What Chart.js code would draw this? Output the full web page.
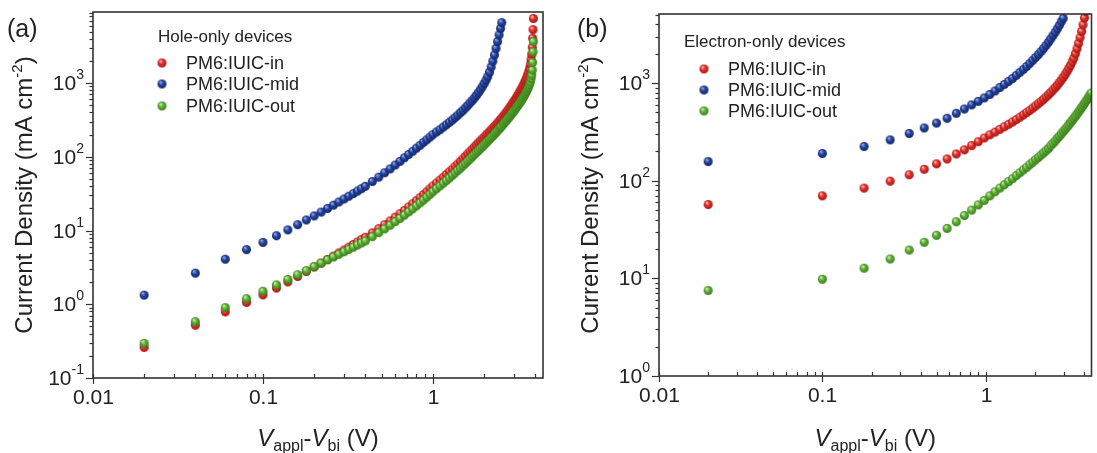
<!DOCTYPE html>
<html>
<head>
<meta charset="utf-8">
<script src="https://cdn.jsdelivr.net/npm/chart.js@4.4.1/dist/chart.umd.min.js"></script>
<style>
  html, body { margin: 0; padding: 0; background: #fff; }
  #wrap { position: relative; width: 1097px; height: 453px; overflow: hidden; }
  canvas { position: absolute; left: 0; top: 0; }
</style>
</head>
<body>
<div id="wrap">
  <canvas id="holeChart" width="1097" height="453"></canvas>
  <canvas id="electronChart" width="1097" height="453"></canvas>
</div>
<script>
// ---- data ----
const seriesNames = ["PM6:IUIC-in", "PM6:IUIC-mid", "PM6:IUIC-out"];
const xTickLabels = ["0.01", "0.1", "1"];

// (a) hole-only, V_appl - V_bi (V)
const xHole = [
  0.02, 0.04, 0.06, 0.08, 0.10, 0.12, 0.14, 0.16, 0.18, 0.20,
  0.22, 0.24, 0.26, 0.28, 0.30, 0.32, 0.34, 0.36, 0.38, 0.40,
  0.44, 0.48, 0.52, 0.56, 0.60, 0.64, 0.68, 0.72, 0.76, 0.80,
  0.84, 0.88, 0.92, 0.96, 1.00,
  1.05, 1.10, 1.15, 1.20, 1.25, 1.30, 1.35, 1.40, 1.45, 1.50,
  1.55, 1.60, 1.65, 1.70, 1.75, 1.80, 1.85, 1.90, 1.95, 2.00,
  2.05, 2.10, 2.15, 2.20, 2.25, 2.30, 2.35, 2.40, 2.45, 2.50, 2.54,
  2.60, 2.65, 2.70, 2.75, 2.80, 2.85, 2.90, 2.95, 3.00,
  3.05, 3.10, 3.15, 3.20, 3.25, 3.30, 3.35, 3.40, 3.45, 3.50,
  3.55, 3.60, 3.65, 3.70,
  3.74, 3.78, 3.81, 3.84, 3.86, 3.88, 3.90
];
const holeIn = [
  0.26, 0.52, 0.79, 1.06, 1.34, 1.66, 2.01, 2.38, 2.78, 3.20,
  3.62, 4.05, 4.50, 4.97, 5.45, 5.95, 6.47, 7.0, 7.55, 8.1,
  9.3, 10.6, 12.0, 13.5, 15.2, 16.9, 18.8, 20.9, 23.1, 25.4,
  27.9, 30.7, 33.6, 36.8, 40.2,
  44.1, 48.3, 52.7, 57.5, 62.6, 67.9, 73.7, 79.9, 86.5, 93.5,
  101, 109, 117, 126, 135, 144, 154, 164, 174, 184,
  195, 206, 218, 231, 244, 258, 272, 287, 303, 320, 334,
  356, 377, 400, 424, 449, 476, 504, 534, 566,
  600, 637, 677, 720, 767, 818, 875, 938, 1008, 1086,
  1175, 1280, 1410, 1570,
  1780, 2080, 2450, 3050, 4050, 5300, 7500
];
const holeMid = [
  1.33, 2.64, 4.08, 5.5, 6.9, 8.5, 10.2, 12.0, 13.9, 15.8,
  17.8, 19.9, 22.1, 24.4, 26.8, 29.2, 31.7, 34.3, 37.0, 39.8,
  46.2, 53.0, 60.7, 68.5, 77.4, 86.6, 96.9, 107.6, 118.8, 131,
  143, 157, 170, 185, 200,
  217, 233, 253, 272, 293, 315, 340, 366, 396, 423,
  459, 494, 537, 578, 626, 677, 740, 810, 891, 981,
  1090, 1220, 1400, 1650, 1980, 2400, 2950, 3650, 4500, 5500, 6600,
  null, null, null, null, null, null, null, null, null,
  null, null, null, null, null, null, null, null, null, null,
  null, null, null, null,
  null, null, null, null, null, null, null
];
const holeOut = [
  0.295, 0.58, 0.90, 1.19, 1.50, 1.83, 2.17, 2.51, 2.86, 3.24,
  3.62, 4.0, 4.38, 4.76, 5.15, 5.55, 5.95, 6.37, 6.80, 7.23,
  8.26, 9.36, 10.55, 11.8, 13.2, 14.6, 16.2, 17.9, 19.7, 21.6,
  23.7, 25.9, 28.3, 30.9, 33.7,
  36.9, 40.3, 43.9, 47.7, 51.6, 55.9, 60.3, 65.2, 70.1, 75.5,
  81, 87.1, 93, 100, 107, 114, 121, 129, 137, 145,
  154, 163, 172, 182, 192, 203, 214, 226, 238, 251, 262,
  279, 294, 310, 326, 343, 361, 380, 400, 421,
  443, 466, 491, 517, 545, 575, 607, 642, 680, 722,
  768, 820, 880, 950,
  1030, 1150, 1280, 1500, 1900, 2650, 3650
];

// (b) electron-only
const xElectron = [
  0.02, 0.10, 0.18, 0.26, 0.34, 0.42, 0.50, 0.58, 0.66, 0.74,
  0.82, 0.90, 0.98, 1.06, 1.14, 1.22, 1.30, 1.38, 1.46, 1.54,
  1.62, 1.70, 1.78, 1.86, 1.94, 2.02, 2.10, 2.18, 2.26, 2.34,
  2.42, 2.50, 2.58, 2.66, 2.74, 2.82, 2.90, 2.98, 3.06, 3.14,
  3.22, 3.30, 3.38, 3.46, 3.54, 3.62, 3.70, 3.78, 3.86, 3.94,
  4.02, 4.10, 4.18, 4.26, 4.34, 4.42
];
const electronIn = [
  57, 70, 84, 99, 115, 131, 149, 167, 188, 207,
  229, 251, 274, 295, 315, 336, 357, 378, 400, 423,
  447, 472, 498, 525, 554, 584, 615, 648, 683, 720,
  760, 802, 848, 897, 950, 1008, 1072, 1142, 1220, 1308,
  1408, 1520, 1648, 1795, 2000, 2250, 2550, 2920, 3380, 3950,
  4650, 5400, null, null, null, null
];
const electronMid = [
  157, 190, 224, 262, 305, 347, 389, 436, 490, 542,
  598, 650, 705, 765, 830, 900, 970, 1040, 1115, 1200,
  1290, 1380, 1480, 1590, 1710, 1830, 1960, 2100, 2260, 2430,
  2620, 2830, 3060, 3310, 3590, 3900, 4250, 4600, null, null,
  null, null, null, null, null, null, null, null, null, null,
  null, null, null, null, null, null
];
const electronOut = [
  7.5, 9.8, 12.7, 15.8, 19.5, 23.4, 27.6, 32.5, 38, 44,
  50, 56.5, 63, 70, 77, 84, 91, 98, 105, 113,
  121, 129, 137, 146, 155, 164, 173, 183, 193, 203,
  214, 228, 241, 255, 270, 285, 301, 318, 335, 353,
  372, 392, 413, 435, 458, 482, 507, 533, 560, 589,
  619, 650, 683, 717, 752, 789
];

// ---- styling ----
const FONT = '"Liberation Sans", Arial, Helvetica, sans-serif';
const TEXT = "#222";
const palette = [
  { base: "#e2312c", light: "#fbb0ad", dark: "#a3150f" },
  { base: "#25449f", light: "#95a8e4", dark: "#122668" },
  { base: "#5fb236", light: "#c5ebaa", dark: "#387a1a" },
];

// small shaded ball used as the point style
function ball(c, r) {
  const size = Math.ceil(r * 2) + 2;
  const cv = document.createElement("canvas");
  cv.width = cv.height = size;
  const g = cv.getContext("2d");
  const m = size / 2;
  const grad = g.createRadialGradient(m - r * 0.35, m - r * 0.45, r * 0.1, m, m, r);
  grad.addColorStop(0, c.light);
  grad.addColorStop(0.45, c.base);
  grad.addColorStop(1, c.dark);
  g.fillStyle = grad;
  g.beginPath();
  g.arc(m, m, r, 0, Math.PI * 2);
  g.fill();
  return cv;
}
const balls = palette.map((c) => ball(c, 4.5));

function points(xs, ys) {
  return xs.map((x, i) => ({ x, y: ys[i] })).filter((p) => p.y !== null);
}

function logTicks(min, max) {
  const out = [];
  for (let n = Math.floor(Math.log10(min)); n <= Math.ceil(Math.log10(max)); n++) {
    for (let m = 1; m <= 9; m++) {
      const v = m * Math.pow(10, n);
      if (v >= min * 0.999 && v <= max * 1.001) out.push({ v, major: m === 1, n });
    }
  }
  return out;
}

function drawRuns(ctx, runs, x, y) {
  // runs: [text, font, dy]
  let w = 0;
  runs.forEach((r) => { ctx.font = r[1]; w += ctx.measureText(r[0]).width; });
  let cx = x - w / 2;
  runs.forEach((r) => {
    ctx.font = r[1];
    ctx.fillText(r[0], cx, y + r[2]);
    cx += ctx.measureText(r[0]).width;
  });
}

const panelPlugin = {
  id: "panel",
  afterDraw(chart, args, opts) {
    const ctx = chart.ctx;
    const a = chart.chartArea;
    const xs = chart.scales.x;
    const ys = chart.scales.y;
    ctx.save();
    ctx.strokeStyle = "#333";
    ctx.fillStyle = TEXT;

    // frame
    ctx.lineWidth = 1.6;
    ctx.strokeRect(a.left, a.top, a.right - a.left, a.bottom - a.top);

    // x ticks and labels
    ctx.lineWidth = 1.2;
    ctx.font = "21px " + FONT;
    ctx.textAlign = "center";
    ctx.textBaseline = "middle";
    logTicks(xs.min, xs.max).forEach((t) => {
      const px = Math.round(xs.getPixelForValue(t.v)) + 0.5;
      ctx.beginPath();
      if (t.major) {
        ctx.moveTo(px, a.bottom - 4);
        ctx.lineTo(px, a.bottom + 6);
      } else {
        ctx.moveTo(px, a.bottom);
        ctx.lineTo(px, a.bottom - 4);
      }
      ctx.stroke();
      if (t.major) ctx.fillText(xTickLabels[t.n + 2], px, a.bottom + 20);
    });

    // y ticks and labels
    logTicks(ys.min, ys.max).forEach((t) => {
      const py = Math.round(ys.getPixelForValue(t.v)) + 0.5;
      ctx.beginPath();
      ctx.moveTo(a.left, py);
      ctx.lineTo(a.left - (t.major ? 7 : 3.5), py);
      ctx.stroke();
      if (t.major) {
        const xr = a.left - 9;
        ctx.textAlign = "right";
        ctx.font = "14px " + FONT;
        const e = String(t.n);
        const ew = ctx.measureText(e).width;
        ctx.fillText(e, xr, py - 8);
        ctx.font = "21px " + FONT;
        ctx.fillText("10", xr - ew, py + 1);
      }
    });

    // axis titles
    ctx.textAlign = "left";
    ctx.textBaseline = "alphabetic";
    drawRuns(ctx, [
      ["V", "italic 24px " + FONT, 0],
      ["appl", "16px " + FONT, 5],
      ["-", "24px " + FONT, 0],
      ["V", "italic 24px " + FONT, 0],
      ["bi", "16px " + FONT, 5],
      [" (V)", "24px " + FONT, 0],
    ], (a.left + a.right) / 2, 446);

    ctx.save();
    ctx.translate(a.left - 61, (a.top + a.bottom) / 2);
    ctx.rotate(-Math.PI / 2);
    drawRuns(ctx, [
      ["Current Density (mA cm", "24px " + FONT, 0],
      ["-2", "15px " + FONT, -10],
      [")", "24px " + FONT, 0],
    ], 0, 0);
    ctx.restore();

    // panel letter
    ctx.font = "25px " + FONT;
    ctx.fillText(opts.letter, opts.letterX, 37);

    // legend
    const lg = opts.legend;
    ctx.textBaseline = "middle";
    ctx.font = "17px " + FONT;
    ctx.fillText(lg.title, lg.x, lg.rows[0]);
    ctx.font = "18px " + FONT;
    seriesNames.forEach((name, i) => {
      const y = lg.rows[i + 1];
      const b = balls[i];
      ctx.drawImage(b, lg.markerX - b.width / 2, y - b.height / 2);
      ctx.fillText(name, lg.textX, y + 1);
    });
    ctx.restore();
  },
};

function makeDatasets(xs, sets) {
  const order = [3, 2, 1]; // out on top, in at the bottom
  return sets.map((ys, i) => ({
    label: seriesNames[i],
    data: points(xs, ys),
    pointStyle: balls[i],
    pointRadius: 4.5,
    showLine: false,
    order: order[i],
  }));
}

function makeChart(id, xs, sets, yMin, yMax, padding, panel) {
  return new Chart(document.getElementById(id), {
    type: "scatter",
    data: { datasets: makeDatasets(xs, sets) },
    options: {
      responsive: false,
      animation: false,
      events: [],
      layout: { padding },
      plugins: {
        legend: { display: false },
        tooltip: { enabled: false },
        panel,
      },
      scales: {
        x: {
          type: "logarithmic",
          min: 0.01,
          max: 4.44,
          ticks: { display: false },
          grid: { display: false },
          border: { display: false },
          afterFit: (s) => { s.height = 0; },
        },
        y: {
          type: "logarithmic",
          min: yMin,
          max: yMax,
          ticks: { display: false },
          grid: { display: false },
          border: { display: false },
          afterFit: (s) => { s.width = 0; },
        },
      },
    },
    plugins: [panelPlugin],
  });
}

makeChart("holeChart", xHole, [holeIn, holeMid, holeOut], 0.1, 9200,
  { left: 93, right: 554, top: 12, bottom: 75 },
  {
    letter: "(a)", letterX: 7,
    legend: { title: "Hole-only devices", x: 158, markerX: 162, textX: 186, rows: [37, 63, 84, 106] },
  });

makeChart("electronChart", xElectron, [electronIn, electronMid, electronOut], 1, 5100,
  { left: 659, right: 0, top: 14, bottom: 77 },
  {
    letter: "(b)", letterX: 577,
    legend: { title: "Electron-only devices", x: 684, markerX: 704, textX: 728, rows: [42, 69, 90, 111] },
  });
</script>
</body>
</html>
